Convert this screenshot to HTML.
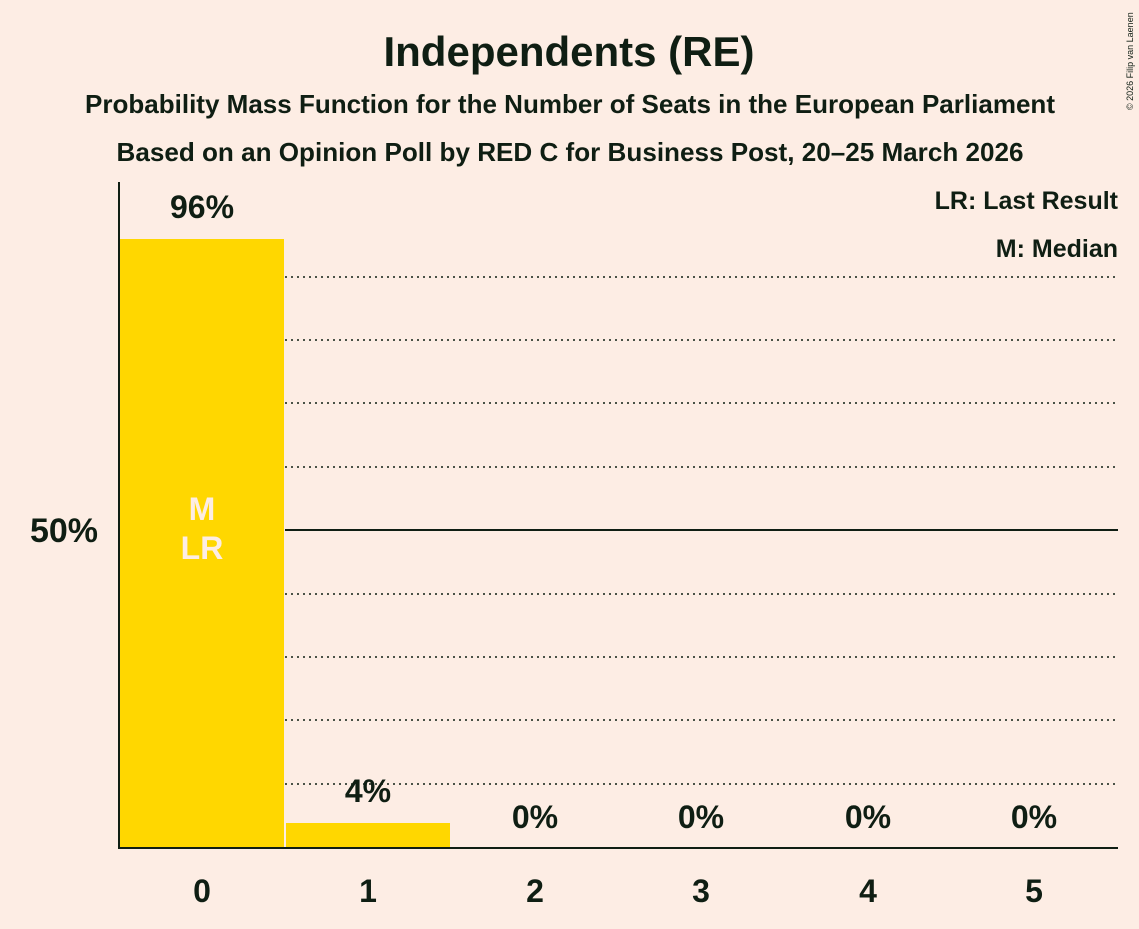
<!DOCTYPE html>
<html><head><style>
body{margin:0;background:#FDEDE4;}
svg text{font-family:"Liberation Sans",sans-serif;font-weight:bold;fill:#0F1E13;}
</style></head><body>
<svg width="1139" height="924" viewBox="0 0 1139 924" xmlns="http://www.w3.org/2000/svg">
<rect width="1139" height="924" fill="#FDEDE4"/>
<text x="569" y="66" font-size="42" text-anchor="middle">Independents (RE)</text>
<text x="570" y="113" font-size="26" text-anchor="middle" textLength="970" lengthAdjust="spacingAndGlyphs">Probability Mass Function for the Number of Seats in the European Parliament</text>
<text x="570" y="161" font-size="26" text-anchor="middle" textLength="907" lengthAdjust="spacingAndGlyphs">Based on an Opinion Poll by RED C for Business Post, 20–25 March 2026</text>
<text x="1133" y="110" font-size="9" transform="rotate(-90 1133 110)" style="font-weight:normal">© 2026 Filip van Laenen</text>
<g stroke="#0F1E13" stroke-width="1.5" stroke-dasharray="2,4">
<line x1="285" y1="277" x2="1118" y2="277"/>
<line x1="285" y1="340" x2="1118" y2="340"/>
<line x1="285" y1="403" x2="1118" y2="403"/>
<line x1="285" y1="467" x2="1118" y2="467"/>
<line x1="285" y1="594" x2="1118" y2="594"/>
<line x1="285" y1="657" x2="1118" y2="657"/>
<line x1="285" y1="720" x2="1118" y2="720"/>
<line x1="285" y1="784" x2="1118" y2="784"/>
</g>
<line x1="285" y1="530" x2="1118" y2="530" stroke="#0F1E13" stroke-width="2"/>
<rect x="120" y="239" width="164" height="609" fill="#FFD700"/>
<rect x="286" y="823" width="164" height="25" fill="#FFD700"/>
<line x1="119" y1="182" x2="119" y2="849" stroke="#0F1E13" stroke-width="2"/>
<line x1="118" y1="848" x2="1118" y2="848" stroke="#0F1E13" stroke-width="2"/>
<text x="202" y="218" font-size="32" text-anchor="middle">96%</text>
<text x="368" y="802" font-size="32" text-anchor="middle">4%</text>
<text x="535" y="828" font-size="32" text-anchor="middle">0%</text>
<text x="701" y="828" font-size="32" text-anchor="middle">0%</text>
<text x="868" y="828" font-size="32" text-anchor="middle">0%</text>
<text x="1034" y="828" font-size="32" text-anchor="middle">0%</text>
<text x="202" y="520" font-size="32" text-anchor="middle" style="fill:#FDEDE4">M</text>
<text x="202" y="559" font-size="32" text-anchor="middle" style="fill:#FDEDE4">LR</text>
<text x="98" y="542" font-size="34" text-anchor="end">50%</text>
<text x="202" y="902" font-size="32" text-anchor="middle">0</text>
<text x="368" y="902" font-size="32" text-anchor="middle">1</text>
<text x="535" y="902" font-size="32" text-anchor="middle">2</text>
<text x="701" y="902" font-size="32" text-anchor="middle">3</text>
<text x="868" y="902" font-size="32" text-anchor="middle">4</text>
<text x="1034" y="902" font-size="32" text-anchor="middle">5</text>
<text x="1118" y="209" font-size="25" text-anchor="end">LR: Last Result</text>
<text x="1118" y="257" font-size="25" text-anchor="end">M: Median</text>
</svg>
</body></html>
